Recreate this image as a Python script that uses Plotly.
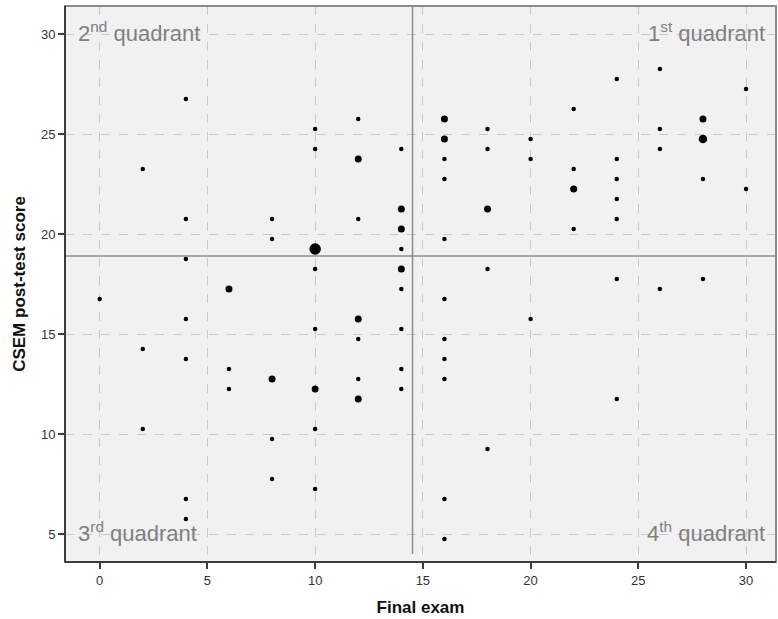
import plotly.graph_objects as go

# Final exam score (x), CSEM post-test score (y), number of students at the point (n)
final_exam = [4, 12, 10, 10, 14, 12, 2, 14, 4, 8, 12, 14, 8, 10, 14, 4,
              16, 16, 16, 16, 18, 18, 20, 20, 22, 22, 22, 22, 24, 24, 24, 24, 24,
              26, 26, 26, 28, 28, 28, 30, 30, 18, 16,
              10, 14, 6, 14, 0, 4, 12, 10, 14, 12, 2, 4, 6, 14, 8, 12, 6, 10, 14,
              12, 2, 10, 8, 8,
              18, 24, 28, 26, 16, 20, 16, 16, 16, 24, 18,
              10, 4, 4, 16, 16]
csem_post = [26.75, 25.75, 25.25, 24.25, 24.25, 23.75, 23.25, 21.25, 20.75, 20.75, 20.75, 20.25, 19.75, 19.25, 19.25, 18.75,
             25.75, 24.75, 23.75, 22.75, 25.25, 24.25, 24.75, 23.75, 26.25, 23.25, 22.25, 20.25, 27.75, 23.75, 22.75, 21.75, 20.75,
             28.25, 25.25, 24.25, 25.75, 24.75, 22.75, 27.25, 22.25, 21.25, 19.75,
             18.25, 18.25, 17.25, 17.25, 16.75, 15.75, 15.75, 15.25, 15.25, 14.75, 14.25, 13.75, 13.25, 13.25, 12.75, 12.75, 12.25, 12.25, 12.25,
             11.75, 10.25, 10.25, 9.75, 7.75,
             18.25, 17.75, 17.75, 17.25, 16.75, 15.75, 14.75, 13.75, 12.75, 11.75, 9.25,
             7.25, 6.75, 5.75, 6.75, 4.75]
counts = [1, 1, 1, 1, 1, 2, 1, 2, 1, 1, 1, 2, 1, 4, 1, 1,
          2, 2, 1, 1, 1, 1, 1, 1, 1, 1, 2, 1, 1, 1, 1, 1, 1,
          1, 1, 1, 2, 3, 1, 1, 1, 2, 1,
          1, 2, 2, 1, 1, 1, 2, 1, 1, 1, 1, 1, 1, 1, 2, 1, 1, 2, 1,
          2, 1, 1, 1, 1,
          1, 1, 1, 1, 1, 1, 1, 1, 1, 1, 1,
          1, 1, 1, 1, 1]

x_ticks = [0, 5, 10, 15, 20, 25, 30]
y_ticks = [5, 10, 15, 20, 25, 30]
mean_x = 14.52
mean_y = 18.9

size_for = {1: 4.5, 2: 7, 3: 8.5, 4: 11.5}
sizes = [size_for[c] for c in counts]

FONT = "Liberation Sans, Arial, sans-serif"

fig = go.Figure()
fig.add_trace(go.Scatter(
    x=final_exam, y=csem_post, mode="markers",
    marker=dict(color="#000000", size=sizes, opacity=1, line=dict(width=0)),
    hoverinfo="x+y", showlegend=False))

x_range = [-1.61, 31.39]
y_range = [3.6, 31.4]

shapes = [
    dict(type="line", xref="x", yref="y", x0=x_range[0], x1=x_range[1], y0=mean_y, y1=mean_y,
         line=dict(color="#8c8c8c", width=1.5), layer="above"),
    dict(type="line", xref="x", yref="y", x0=mean_x, x1=mean_x, y0=4.0, y1=y_range[1],
         line=dict(color="#8c8c8c", width=1.5), layer="above"),
    dict(type="rect", xref="paper", yref="paper", x0=0, x1=1, y0=0, y1=1,
         line=dict(color="#8a8a8a", width=2), layer="above"),
    dict(type="line", xref="paper", yref="paper", x0=0, x1=0, y0=0, y1=1,
         line=dict(color="#3c3c3c", width=2), layer="above"),
    dict(type="line", xref="paper", yref="paper", x0=0, x1=1, y0=0, y1=0,
         line=dict(color="#3c3c3c", width=2), layer="above"),
]

qfont = dict(family=FONT, size=22, color="#808080")
annotations = [
    dict(text="2<sup>nd</sup> quadrant", xref="paper", yref="y", x=0.016, y=30.1,
         xanchor="left", yanchor="middle", showarrow=False, font=qfont),
    dict(text="1<sup>st</sup> quadrant", xref="paper", yref="y", x=0.988, y=30.1,
         xanchor="right", yanchor="middle", showarrow=False, font=qfont),
    dict(text="3<sup>rd</sup> quadrant", xref="paper", yref="y", x=0.016, y=5.1,
         xanchor="left", yanchor="middle", showarrow=False, font=qfont),
    dict(text="4<sup>th</sup> quadrant", xref="paper", yref="y", x=0.988, y=5.1,
         xanchor="right", yanchor="middle", showarrow=False, font=qfont),
]

fig.update_layout(
    width=778, height=619,
    margin=dict(l=65, r=2, t=6, b=57),
    paper_bgcolor="white", plot_bgcolor="#f0f1f0",
    font=dict(family=FONT, size=13, color="#333333"),
    shapes=shapes, annotations=annotations,
    xaxis=dict(range=x_range, tickvals=x_ticks, showgrid=True, gridcolor="#c9c9c9",
               griddash="dash", gridwidth=1, zeroline=False, showline=False,
               ticks="outside", ticklen=6, tickwidth=2, tickcolor="#3c3c3c",
               tickfont=dict(size=13, color="#333333"),
               title=dict(text="<b>Final exam</b>", font=dict(size=17, color="#111111"), standoff=14)),
    yaxis=dict(range=y_range, tickvals=y_ticks, showgrid=True, gridcolor="#c9c9c9",
               griddash="dash", gridwidth=1, zeroline=False, showline=False,
               ticks="outside", ticklen=6, tickwidth=2, tickcolor="#3c3c3c",
               tickfont=dict(size=13, color="#333333"),
               title=dict(text="<b>CSEM post-test score</b>", font=dict(size=17, color="#111111"), standoff=10)),
)

fig.write_html("out.html", config={"displayModeBar": False},
               post_script="document.body.style.margin='0';document.body.style.padding='0';")
